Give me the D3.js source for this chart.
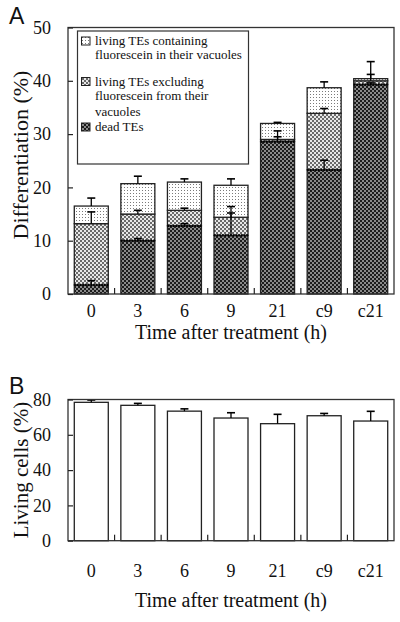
<!DOCTYPE html>
<html>
<head>
<meta charset="utf-8">
<script src="https://cdn.jsdelivr.net/npm/d3@7"></script>
<style>
  html, body { margin: 0; padding: 0; background: #fff; }
  svg { display: block; }
  text { font-family: "Liberation Serif", "Times New Roman", serif; fill: #111; }
</style>
</head>
<body>
<svg id="chart" width="400" height="622"></svg>
<script>
// ---- data ----
const categories = ["0", "3", "6", "9", "21", "c9", "c21"];
// Panel A: differentiation (%) by component (stacked)
const deadTEs        = [1.7, 10.0, 12.8, 11.0, 28.6, 23.3, 39.3];
const deadTEsSD      = [0.8, 0.4, 0.4, 4.2, 0.9, 1.8, 0.3];
const livingExcl     = [11.5, 5.0, 2.9, 3.4, 0.4, 10.6, 0.7];
const livingExclSD   = [2.2, 0.7, 0.4, 2.0, 1.6, 0.9, 1.2];
const livingCont     = [3.3, 5.7, 5.3, 6.0, 3.0, 4.8, 0.4];
const livingContSD   = [1.5, 1.4, 0.6, 1.2, 0.2, 1.1, 3.2];
const yTicksA = [0, 10, 20, 30, 40, 50];
const legendLabels = [
  ["living TEs containing", "fluorescein in their vacuoles"],
  ["living TEs excluding", "fluorescein from their", "vacuoles"],
  ["dead TEs"]
];
// Panel B: living cells (%)
const livingCells   = [78.4, 76.7, 73.4, 69.5, 66.3, 70.8, 67.8];
const livingCellsSD = [1.3, 1.1, 1.3, 3.0, 5.3, 1.3, 5.5];
const yTicksB = [0, 20, 40, 60, 80];

const svg = d3.select("#chart");
const ink = "#222";

// ---- patterns ----
const defs = svg.append("defs");
function pattern(id, size, bg, cells, fg) {
  const p = defs.append("pattern").attr("id", id).attr("patternUnits", "userSpaceOnUse")
    .attr("width", size).attr("height", size);
  p.append("rect").attr("width", size).attr("height", size).attr("fill", bg);
  cells.forEach(c => p.append("rect").attr("x", c[0]).attr("y", c[1])
    .attr("width", c[2]).attr("height", c[3]).attr("fill", fg));
}
pattern("pDead", 4, "#8a8a8a", [[0, 0, 2, 2], [2, 2, 2, 2]], "#1c1c1c");
pattern("pExcl", 4, "#e8e8e8", [[0, 0, 2, 2], [2, 2, 2, 2]], "#6a6a6a");
pattern("pCont", 3, "#ffffff", [[1, 1, 1, 1]], "#7a7a7a");

const left = 68, right = 394;
const x = d3.scaleBand().domain(categories).range([left, right]).paddingInner(0.27).paddingOuter(0.135);
const boundaries = categories.slice(1).map(c => x(c) - x.step() * x.paddingInner() / 2);

// ===== Panel A =====
const topA = 27.5, botA = 294;
const yA = d3.scaleLinear().domain([0, 50]).range([botA, topA]);

const rows = categories.map((c, i) => ({ cat: c, dead: deadTEs[i], excl: livingExcl[i], cont: livingCont[i] }));
const keys = ["dead", "excl", "cont"];
const sds = { dead: deadTEsSD, excl: livingExclSD, cont: livingContSD };
const fills = { dead: "url(#pDead)", excl: "url(#pExcl)", cont: "url(#pCont)" };
const stacked = d3.stack().keys(keys)(rows);

const gA = svg.append("g");
stacked.forEach(layer => {
  gA.append("g").selectAll("rect").data(layer).join("rect")
    .attr("x", d => x(d.data.cat))
    .attr("y", d => yA(d[1]))
    .attr("width", x.bandwidth())
    .attr("height", d => yA(d[0]) - yA(d[1]))
    .attr("fill", fills[layer.key])
    .attr("stroke", ink).attr("stroke-width", 1.3);
});
// dotted boundary on top of dead TEs
gA.append("g").selectAll("line").data(stacked[0]).join("line")
  .attr("x1", d => x(d.data.cat)).attr("x2", d => x(d.data.cat) + x.bandwidth())
  .attr("y1", d => yA(d[1])).attr("y2", d => yA(d[1]))
  .attr("stroke", "#000").attr("stroke-width", 2.2).attr("stroke-dasharray", "1.5,1.2");

// error bars (upward)
function errBars(g, data, sd, yS) {
  data.forEach((d, i) => {
    const cx = x(categories[i]) + x.bandwidth() / 2;
    const y0 = yS(d), y1 = yS(d + sd[i]);
    g.append("line").attr("x1", cx).attr("x2", cx).attr("y1", y0).attr("y2", y1)
      .attr("stroke", "#000").attr("stroke-width", 1.3);
    g.append("line").attr("x1", cx - 4).attr("x2", cx + 4).attr("y1", y1).attr("y2", y1)
      .attr("stroke", "#000").attr("stroke-width", 1.6);
  });
}
stacked.forEach(layer => {
  const tops = layer.map(d => d[1]);
  errBars(gA, tops, sds[layer.key], yA);
});

// frame
gA.append("rect").attr("x", left).attr("y", topA).attr("width", right - left).attr("height", botA - topA)
  .attr("fill", "none").attr("stroke", "#333").attr("stroke-width", 1.3);

// y axis A
const axA = gA.append("g").attr("transform", `translate(${left},0)`)
  .call(d3.axisLeft(yA).tickValues(yTicksA).tickSize(-5).tickPadding(17));
axA.select(".domain").remove();
axA.selectAll(".tick line").attr("stroke", ink).attr("stroke-width", 1.2);
axA.selectAll(".tick text").attr("font-size", 18).attr("fill", "#111");

// x axis A
const axXA = gA.append("g").attr("transform", `translate(0,${botA})`)
  .call(d3.axisBottom(x).tickSize(0).tickPadding(10));
axXA.select(".domain").remove();
axXA.selectAll(".tick text").attr("font-size", 18).attr("fill", "#111");
gA.append("g").selectAll("line").data(boundaries).join("line")
  .attr("x1", d => d).attr("x2", d => d).attr("y1", botA).attr("y2", botA - 6)
  .attr("stroke", ink).attr("stroke-width", 1.2);

gA.append("text").attr("x", (left + right) / 2).attr("y", 339).attr("text-anchor", "middle")
  .attr("font-size", 20).text("Time after treatment (h)");
gA.append("text").attr("transform", `translate(28,155) rotate(-90)`)
  .attr("text-anchor", "middle").attr("font-size", 22).text("Differentiation (%)");
svg.append("text").attr("x", 9).attr("y", 24)
  .style("font-family", "'Liberation Sans', Arial, sans-serif")
  .attr("font-size", 23).text("A");

// legend
const lg = gA.append("g");
lg.append("rect").attr("x", 77.5).attr("y", 31).attr("width", 171).attr("height", 133)
  .attr("fill", "#fff").attr("stroke", "#333").attr("stroke-width", 1.2);
const legendRows = [
  { key: "cont", base: 45, offs: [0, 13.5] },
  { key: "excl", base: 85.5, offs: [0, 14.5, 30.5] },
  { key: "dead", base: 131, offs: [0] }
];
legendRows.forEach((r, k) => {
  lg.append("rect").attr("x", 81.5).attr("y", r.base - 8).attr("width", 8.5).attr("height", 8)
    .attr("fill", fills[r.key]).attr("stroke", ink).attr("stroke-width", 1);
  legendLabels[k].forEach((t, j) => {
    lg.append("text").attr("x", 95).attr("y", r.base + r.offs[j]).attr("font-size", 13).text(t);
  });
});

// ===== Panel B =====
const topB = 399.5, botB = 540.7;
const yB = d3.scaleLinear().domain([0, 80]).range([botB, topB]);
const gB = svg.append("g");
gB.append("g").selectAll("rect").data(livingCells).join("rect")
  .attr("x", (d, i) => x(categories[i]))
  .attr("y", d => yB(d))
  .attr("width", x.bandwidth())
  .attr("height", d => botB - yB(d))
  .attr("fill", "#fff").attr("stroke", ink).attr("stroke-width", 1.3);
errBars(gB, livingCells, livingCellsSD, yB);

gB.append("rect").attr("x", left).attr("y", topB).attr("width", right - left).attr("height", botB - topB)
  .attr("fill", "none").attr("stroke", "#333").attr("stroke-width", 1.3);
const axB = gB.append("g").attr("transform", `translate(${left},0)`)
  .call(d3.axisLeft(yB).tickValues(yTicksB).tickSize(-5).tickPadding(17));
axB.select(".domain").remove();
axB.selectAll(".tick line").attr("stroke", ink).attr("stroke-width", 1.2);
axB.selectAll(".tick text").attr("font-size", 18).attr("fill", "#111");
const axXB = gB.append("g").attr("transform", `translate(0,${botB})`)
  .call(d3.axisBottom(x).tickSize(0).tickPadding(23.5));
axXB.select(".domain").remove();
axXB.selectAll(".tick text").attr("font-size", 18).attr("fill", "#111");
gB.append("g").selectAll("line").data(boundaries).join("line")
  .attr("x1", d => d).attr("x2", d => d).attr("y1", botB).attr("y2", botB - 6)
  .attr("stroke", ink).attr("stroke-width", 1.2);
gB.append("text").attr("x", (left + right) / 2).attr("y", 606.5).attr("text-anchor", "middle")
  .attr("font-size", 20).text("Time after treatment (h)");
gB.append("text").attr("transform", `translate(28,${(topB + botB) / 2}) rotate(-90)`)
  .attr("text-anchor", "middle").attr("font-size", 21).text("Living cells (%)");
svg.append("text").attr("x", 9).attr("y", 394)
  .style("font-family", "'Liberation Sans', Arial, sans-serif")
  .attr("font-size", 23).text("B");
</script>
</body>
</html>
